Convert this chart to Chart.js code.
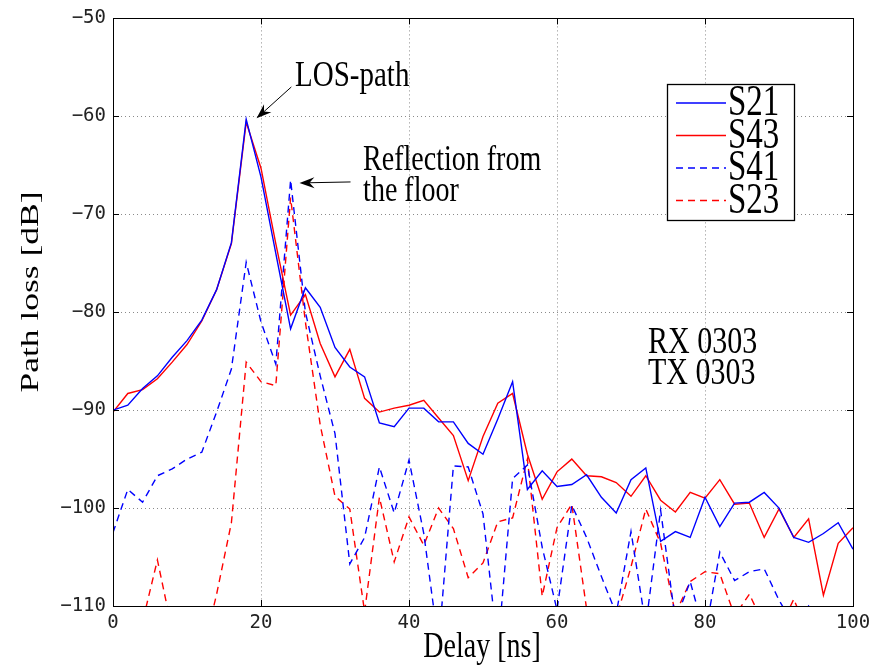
<!DOCTYPE html>
<html>
<head>
<meta charset="utf-8">
<script src="https://cdn.jsdelivr.net/npm/chart.js@4.4.1/dist/chart.umd.min.js"></script>
<style>
    html, body { margin: 0; padding: 0; background: #fff; }
    #wrap { width: 878px; height: 665px; }
</style>
</head>
<body>
<div id="wrap"><canvas id="chart" width="878" height="665"></canvas></div>
<script>
/* =====================
   DATA
===================== */
const delays = [0, 2, 4, 6, 8, 10, 12, 14, 16, 18, 20, 22, 24, 26, 28, 30, 32, 34, 36, 38, 40,
    42, 44, 46, 48, 50, 52, 54, 56, 58, 60, 62, 64, 66, 68, 70, 72, 74, 76, 78, 80,
    82, 84, 86, 88, 90, 92, 94, 96, 98, 100];

const s21 = [-90.0, -89.5, -87.8, -86.5, -84.6, -82.9, -80.8, -77.7, -72.9, -60.3, -66.2,
    -74.0, -81.7, -77.5, -79.5, -83.6, -85.6, -86.6, -91.3, -91.7, -89.8,
    -89.8, -91.2, -91.2, -93.4, -94.5, -90.9, -87.1, -98.1, -96.2, -97.8,
    -97.6, -96.6, -98.9, -100.5, -97.1, -95.9, -103.4, -102.4, -103.0, -98.9,
    -101.9, -99.5, -99.4, -98.4, -100.0, -103.0, -103.5, -102.6, -101.5, -104.2];

const s43 = [-90.2, -88.3, -87.9, -86.8, -85.1, -83.3, -80.9, -77.7, -73.0, -60.6, -65.3,
    -73.0, -80.3, -78.2, -83.2, -86.6, -83.8, -88.8, -90.2, -89.8, -89.5,
    -89.0, -90.8, -92.6, -97.2, -92.7, -89.3, -88.3, -94.5, -99.1, -96.3,
    -95.0, -96.7, -96.8, -97.4, -98.8, -96.7, -99.2, -100.4, -98.4, -99.0,
    -97.1, -99.6, -99.5, -103.0, -100.1, -103.0, -101.1, -108.9, -103.6, -102.0];

const s41 = [-102.5, -98.1, -99.4, -96.7, -96.0, -95.0, -94.3, -90.2, -85.8, -74.9, -81.0,
    -85.3, -66.5, -80.0, -86.5, -92.4, -105.7, -103.0, -95.8, -100.5, -95.1,
    -102.6, -114.0, -95.7, -95.8, -100.6, -114.4, -97.0, -95.6, -104.0, -110.4,
    -99.7, -103.0, -107.0, -110.8, -102.4, -112.0, -100.2, -111.5, -107.5, -113.0,
    -104.5, -107.4, -106.5, -106.2, -109.4, -112.0, -110.0, -113.0, -114.0, -115.0];

const s23 = [-113.0, -114.0, -111.6, -105.3, -112.5, -116.0, -115.2, -108.8, -101.5, -85.1, -87.1,
    -87.5, -68.3, -81.0, -91.5, -98.8, -100.1, -110.6, -98.9, -105.5, -100.9,
    -103.8, -100.0, -102.1, -107.1, -105.6, -101.4, -101.0, -95.0, -109.0, -102.0,
    -99.6, -110.3, -114.0, -111.3, -106.0, -100.1, -103.6, -110.8, -107.5, -106.5,
    -106.7, -111.0, -108.8, -112.0, -112.5, -109.3, -113.0, -114.0, -114.0, -114.0];

const seriesNames = ['S21', 'S43', 'S41', 'S23'];
const yTicks = [-110, -100, -90, -80, -70, -60, -50];
const xTicks = [0, 20, 40, 60, 80, 100];

/* =====================
   HELPERS
===================== */
const SERIF = '"Liberation Serif", "Times New Roman", serif';
const STRETCH = 1.25; // the original figure is taller than it is wide

const toPoints = (vals) => delays.map((d, i) => ({ x: d, y: vals[i] }));

function tallText(ctx, str, x, y, size, align, stretch) {
    ctx.save();
    ctx.font = size + 'px ' + SERIF;
    ctx.fillStyle = '#000';
    ctx.textAlign = align || 'left';
    ctx.textBaseline = 'middle';
    ctx.translate(x, y);
    ctx.scale(1, stretch || STRETCH);
    ctx.fillText(str, 0, 0);
    ctx.restore();
}

function arrow(ctx, x1, y1, x2, y2) {
    const ang = Math.atan2(y2 - y1, x2 - x1);
    const len = 15, wid = 5.5;
    ctx.save();
    ctx.strokeStyle = '#000';
    ctx.fillStyle = '#000';
    ctx.lineWidth = 1;
    ctx.beginPath();
    ctx.moveTo(x1, y1);
    ctx.lineTo(x2 - Math.cos(ang) * 6, y2 - Math.sin(ang) * 6);
    ctx.stroke();
    ctx.translate(x2, y2);
    ctx.rotate(ang);
    ctx.beginPath();
    ctx.moveTo(0, 0);
    ctx.lineTo(-len, -wid);
    ctx.lineTo(-len + 5, 0);
    ctx.lineTo(-len, wid);
    ctx.closePath();
    ctx.fill();
    ctx.restore();
}

/* =====================
   DECORATIONS PLUGIN
===================== */
const decorations = {
    id: 'decorations',
    afterDatasetsDraw(chart) {
        const { ctx, chartArea: a, scales } = chart;
        const xs = scales.x, ys = scales.y;

        // box + inward ticks on all sides
        ctx.save();
        ctx.strokeStyle = '#000';
        ctx.lineWidth = 1;
        ctx.strokeRect(Math.round(a.left) + 0.5, Math.round(a.top) + 0.5,
            Math.round(a.right - a.left), Math.round(a.bottom - a.top));
        ctx.beginPath();
        xTicks.forEach((v) => {
            const px = Math.round(xs.getPixelForValue(v)) + 0.5;
            ctx.moveTo(px, a.bottom); ctx.lineTo(px, a.bottom - 6);
            ctx.moveTo(px, a.top); ctx.lineTo(px, a.top + 6);
        });
        yTicks.forEach((v) => {
            const py = Math.round(ys.getPixelForValue(v)) + 0.5;
            ctx.moveTo(a.left, py); ctx.lineTo(a.left + 6, py);
            ctx.moveTo(a.right, py); ctx.lineTo(a.right - 6, py);
        });
        ctx.stroke();
        ctx.restore();

        // annotations
        const X = (v) => xs.getPixelForValue(v);
        const Y = (v) => ys.getPixelForValue(v);
        tallText(ctx, 'LOS-path', X(24.6), Y(-55.9), 29);
        arrow(ctx, X(24.1), Y(-57.0), X(19.4), Y(-60.2));
        tallText(ctx, 'Reflection from', X(33.8), Y(-64.5), 28);
        tallText(ctx, 'the floor', X(33.8), Y(-67.7), 28);
        arrow(ctx, X(32.1), Y(-66.7), X(25.2), Y(-66.8));
        tallText(ctx, 'RX 0303', X(72.3), Y(-83.2), 30);
        tallText(ctx, 'TX 0303', X(72.3), Y(-86.3), 30);

        // axis titles
        tallText(ctx, 'Delay [ns]', 482, 648, 28, 'center');
        ctx.save();
        ctx.font = '25px ' + SERIF;
        ctx.fillStyle = '#000';
        ctx.textAlign = 'center';
        ctx.textBaseline = 'middle';
        ctx.translate(31, 292);
        ctx.rotate(-Math.PI / 2);
        ctx.scale(1.42, 1);
        ctx.fillText('Path loss [dB]', 0, 0);
        ctx.restore();

        // legend
        const lx = 667.5, ly = 84.5, lw = 127, lh = 136;
        ctx.save();
        ctx.fillStyle = '#fff';
        ctx.fillRect(lx, ly, lw, lh);
        ctx.strokeStyle = '#000';
        ctx.lineWidth = 1.3;
        ctx.strokeRect(lx, ly, lw, lh);
        chart.data.datasets.forEach((ds, i) => {
            const ry = 103 + i * 32.5;
            ctx.beginPath();
            ctx.strokeStyle = ds.borderColor;
            ctx.lineWidth = ds.borderWidth;
            ctx.setLineDash(ds.borderDash || []);
            ctx.moveTo(676, ry);
            ctx.lineTo(726, ry);
            ctx.stroke();
            ctx.setLineDash([]);
            tallText(ctx, ds.label, 728, ry + 1, 33, 'left', 1.32);
        });
        ctx.restore();
    },
};

/* =====================
   CHART
===================== */
const dashed = [7, 5];

new Chart(document.getElementById('chart'), {
    type: 'line',
    data: {
        datasets: [
            { label: seriesNames[0], data: toPoints(s21), borderColor: '#0000ff', borderWidth: 1.4 },
            { label: seriesNames[1], data: toPoints(s43), borderColor: '#ff0000', borderWidth: 1.4 },
            { label: seriesNames[2], data: toPoints(s41), borderColor: '#0000ff', borderWidth: 1.4, borderDash: dashed },
            { label: seriesNames[3], data: toPoints(s23), borderColor: '#ff0000', borderWidth: 1.4, borderDash: dashed },
        ],
    },
    options: {
        responsive: false,
        animation: false,
        devicePixelRatio: 1,
        layout: { padding: { top: 18, right: 25, bottom: 0, left: 0 } },
        elements: {
            point: { radius: 0, hoverRadius: 0 },
            line: { tension: 0, fill: false },
        },
        plugins: {
            legend: { display: false },
            tooltip: { enabled: false },
        },
        scales: {
            x: {
                type: 'linear',
                min: 0,
                max: 100,
                afterBuildTicks: (s) => { s.ticks = xTicks.map((v) => ({ value: v })); },
                afterFit: (s) => { s.height = 59; },
                grid: { color: '#8a8a8a', lineWidth: 1, drawTicks: false },
                border: { display: false, dash: [1, 3] },
                ticks: {
                    padding: 6,
                    color: '#222',
                    font: { family: '"DejaVu Sans Mono", monospace', size: 19 },
                    maxRotation: 0,
                },
            },
            y: {
                min: -110,
                max: -50,
                afterBuildTicks: (s) => { s.ticks = yTicks.map((v) => ({ value: v })); },
                afterFit: (s) => { s.width = 113; },
                grid: { color: '#8a8a8a', lineWidth: 1, drawTicks: false },
                border: { display: false, dash: [1, 3] },
                ticks: {
                    padding: 7,
                    color: '#222',
                    font: { family: '"DejaVu Sans Mono", monospace', size: 19 },
                    callback: (v) => String(v).replace('-', '\u2212'),
                },
            },
        },
    },
    plugins: [decorations],
});
</script>
</body>
</html>
